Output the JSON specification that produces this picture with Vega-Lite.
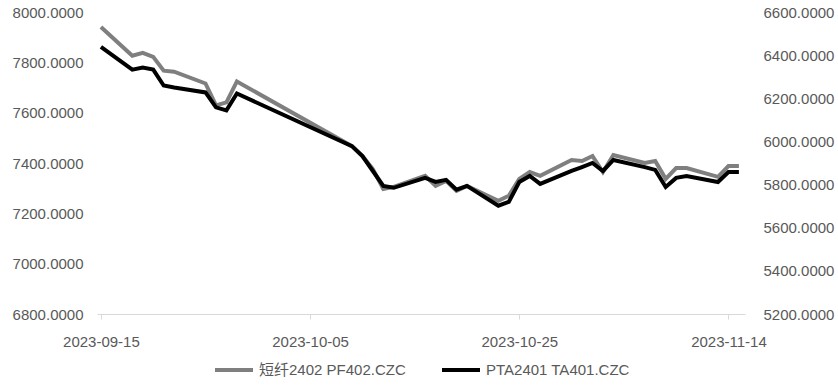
{
  "$schema": "https://vega.github.io/schema/vega-lite/v6.json",
  "width": 648,
  "height": 302,
  "padding": {"left": 12, "right": 2, "top": 5, "bottom": 0},
  "background": "white",
  "data": {
    "values": [
      {"date": "2023-09-15", "series": "短纤2402 PF402.CZC", "value": 7940},
      {"date": "2023-09-18", "series": "短纤2402 PF402.CZC", "value": 7826},
      {"date": "2023-09-19", "series": "短纤2402 PF402.CZC", "value": 7838},
      {"date": "2023-09-20", "series": "短纤2402 PF402.CZC", "value": 7822},
      {"date": "2023-09-21", "series": "短纤2402 PF402.CZC", "value": 7767},
      {"date": "2023-09-22", "series": "短纤2402 PF402.CZC", "value": 7763},
      {"date": "2023-09-25", "series": "短纤2402 PF402.CZC", "value": 7716},
      {"date": "2023-09-26", "series": "短纤2402 PF402.CZC", "value": 7629},
      {"date": "2023-09-27", "series": "短纤2402 PF402.CZC", "value": 7641},
      {"date": "2023-09-28", "series": "短纤2402 PF402.CZC", "value": 7724},
      {"date": "2023-10-09", "series": "短纤2402 PF402.CZC", "value": 7467},
      {"date": "2023-10-10", "series": "短纤2402 PF402.CZC", "value": 7428},
      {"date": "2023-10-11", "series": "短纤2402 PF402.CZC", "value": 7376},
      {"date": "2023-10-12", "series": "短纤2402 PF402.CZC", "value": 7297},
      {"date": "2023-10-13", "series": "短纤2402 PF402.CZC", "value": 7305},
      {"date": "2023-10-16", "series": "短纤2402 PF402.CZC", "value": 7349},
      {"date": "2023-10-17", "series": "短纤2402 PF402.CZC", "value": 7309},
      {"date": "2023-10-18", "series": "短纤2402 PF402.CZC", "value": 7329},
      {"date": "2023-10-19", "series": "短纤2402 PF402.CZC", "value": 7289},
      {"date": "2023-10-20", "series": "短纤2402 PF402.CZC", "value": 7309},
      {"date": "2023-10-23", "series": "短纤2402 PF402.CZC", "value": 7250},
      {"date": "2023-10-24", "series": "短纤2402 PF402.CZC", "value": 7270},
      {"date": "2023-10-25", "series": "短纤2402 PF402.CZC", "value": 7337},
      {"date": "2023-10-26", "series": "短纤2402 PF402.CZC", "value": 7364},
      {"date": "2023-10-27", "series": "短纤2402 PF402.CZC", "value": 7349},
      {"date": "2023-10-30", "series": "短纤2402 PF402.CZC", "value": 7412},
      {"date": "2023-10-31", "series": "短纤2402 PF402.CZC", "value": 7408},
      {"date": "2023-11-01", "series": "短纤2402 PF402.CZC", "value": 7428},
      {"date": "2023-11-02", "series": "短纤2402 PF402.CZC", "value": 7364},
      {"date": "2023-11-03", "series": "短纤2402 PF402.CZC", "value": 7432},
      {"date": "2023-11-06", "series": "短纤2402 PF402.CZC", "value": 7400},
      {"date": "2023-11-07", "series": "短纤2402 PF402.CZC", "value": 7408},
      {"date": "2023-11-08", "series": "短纤2402 PF402.CZC", "value": 7337},
      {"date": "2023-11-09", "series": "短纤2402 PF402.CZC", "value": 7380},
      {"date": "2023-11-10", "series": "短纤2402 PF402.CZC", "value": 7380},
      {"date": "2023-11-13", "series": "短纤2402 PF402.CZC", "value": 7345},
      {"date": "2023-11-14", "series": "短纤2402 PF402.CZC", "value": 7388},
      {"date": "2023-11-15", "series": "短纤2402 PF402.CZC", "value": 7388},
      {"date": "2023-09-15", "series": "PTA2401 TA401.CZC", "value": 6438},
      {"date": "2023-09-18", "series": "PTA2401 TA401.CZC", "value": 6333},
      {"date": "2023-09-19", "series": "PTA2401 TA401.CZC", "value": 6342},
      {"date": "2023-09-20", "series": "PTA2401 TA401.CZC", "value": 6333},
      {"date": "2023-09-21", "series": "PTA2401 TA401.CZC", "value": 6259},
      {"date": "2023-09-22", "series": "PTA2401 TA401.CZC", "value": 6250},
      {"date": "2023-09-25", "series": "PTA2401 TA401.CZC", "value": 6227},
      {"date": "2023-09-26", "series": "PTA2401 TA401.CZC", "value": 6158},
      {"date": "2023-09-27", "series": "PTA2401 TA401.CZC", "value": 6144},
      {"date": "2023-09-28", "series": "PTA2401 TA401.CZC", "value": 6222},
      {"date": "2023-10-09", "series": "PTA2401 TA401.CZC", "value": 5978},
      {"date": "2023-10-10", "series": "PTA2401 TA401.CZC", "value": 5932},
      {"date": "2023-10-11", "series": "PTA2401 TA401.CZC", "value": 5863},
      {"date": "2023-10-12", "series": "PTA2401 TA401.CZC", "value": 5794},
      {"date": "2023-10-13", "series": "PTA2401 TA401.CZC", "value": 5785},
      {"date": "2023-10-16", "series": "PTA2401 TA401.CZC", "value": 5831},
      {"date": "2023-10-17", "series": "PTA2401 TA401.CZC", "value": 5812},
      {"date": "2023-10-18", "series": "PTA2401 TA401.CZC", "value": 5822},
      {"date": "2023-10-19", "series": "PTA2401 TA401.CZC", "value": 5776},
      {"date": "2023-10-20", "series": "PTA2401 TA401.CZC", "value": 5794},
      {"date": "2023-10-23", "series": "PTA2401 TA401.CZC", "value": 5702},
      {"date": "2023-10-24", "series": "PTA2401 TA401.CZC", "value": 5720},
      {"date": "2023-10-25", "series": "PTA2401 TA401.CZC", "value": 5812},
      {"date": "2023-10-26", "series": "PTA2401 TA401.CZC", "value": 5840},
      {"date": "2023-10-27", "series": "PTA2401 TA401.CZC", "value": 5803},
      {"date": "2023-10-30", "series": "PTA2401 TA401.CZC", "value": 5863},
      {"date": "2023-10-31", "series": "PTA2401 TA401.CZC", "value": 5881},
      {"date": "2023-11-01", "series": "PTA2401 TA401.CZC", "value": 5900},
      {"date": "2023-11-02", "series": "PTA2401 TA401.CZC", "value": 5863},
      {"date": "2023-11-03", "series": "PTA2401 TA401.CZC", "value": 5914},
      {"date": "2023-11-06", "series": "PTA2401 TA401.CZC", "value": 5881},
      {"date": "2023-11-07", "series": "PTA2401 TA401.CZC", "value": 5868},
      {"date": "2023-11-08", "series": "PTA2401 TA401.CZC", "value": 5789},
      {"date": "2023-11-09", "series": "PTA2401 TA401.CZC", "value": 5831},
      {"date": "2023-11-10", "series": "PTA2401 TA401.CZC", "value": 5840},
      {"date": "2023-11-13", "series": "PTA2401 TA401.CZC", "value": 5812},
      {"date": "2023-11-14", "series": "PTA2401 TA401.CZC", "value": 5858},
      {"date": "2023-11-15", "series": "PTA2401 TA401.CZC", "value": 5858}
    ]
  },
  "encoding": {
    "x": {
      "field": "date",
      "type": "temporal",
      "scale": {
        "type": "utc",
        "domain": [
          {"year": 2023, "month": 9, "date": 14, "hours": 15, "utc": true},
          {"year": 2023, "month": 11, "date": 15, "hours": 14, "utc": true}
        ]
      },
      "axis": {
        "title": null,
        "format": "%Y-%m-%d",
        "values": [
          {"year": 2023, "month": 9, "date": 15, "utc": true},
          {"year": 2023, "month": 10, "date": 5, "utc": true},
          {"year": 2023, "month": 10, "date": 25, "utc": true},
          {"year": 2023, "month": 11, "date": 14, "utc": true}
        ],
        "grid": false,
        "domainColor": "#d9d9d9",
        "tickColor": "#d9d9d9",
        "tickSize": 5,
        "labelPadding": 15,
        "labelFontSize": 15,
        "labelColor": "#595959",
        "labelFont": "Liberation Sans"
      }
    },
    "color": {
      "field": "series",
      "type": "nominal",
      "scale": {
        "domain": ["短纤2402 PF402.CZC", "PTA2401 TA401.CZC"],
        "range": ["#7f7f7f", "#000000"]
      },
      "legend": {
        "title": null,
        "orient": "bottom",
        "direction": "horizontal",
        "symbolType": "stroke",
        "symbolStrokeWidth": 4,
        "symbolSize": 1444,
        "labelFontSize": 15,
        "labelColor": "#595959",
        "labelFont": "Liberation Sans, Noto Sans CJK SC",
        "labelOffset": 4,
        "columnPadding": 28,
        "offset": 0
      }
    }
  },
  "layer": [
    {
      "transform": [{"filter": "datum.series === '短纤2402 PF402.CZC'"}],
      "mark": {"type": "line", "strokeWidth": 4},
      "encoding": {
        "y": {
          "field": "value",
          "type": "quantitative",
          "scale": {"domain": [6800, 8000], "nice": false, "zero": false},
          "axis": {
            "title": null,
            "orient": "left",
            "values": [6800, 7000, 7200, 7400, 7600, 7800, 8000],
            "format": ".4f",
            "grid": false,
            "domain": false,
            "ticks": false,
            "labelPadding": 14,
            "labelFontSize": 15,
            "labelColor": "#595959",
            "labelFont": "Liberation Sans"
          }
        }
      }
    },
    {
      "transform": [{"filter": "datum.series === 'PTA2401 TA401.CZC'"}],
      "mark": {"type": "line", "strokeWidth": 4},
      "encoding": {
        "y": {
          "field": "value",
          "type": "quantitative",
          "scale": {"domain": [5200, 6600], "nice": false, "zero": false},
          "axis": {
            "title": null,
            "orient": "right",
            "values": [5200, 5400, 5600, 5800, 6000, 6200, 6400, 6600],
            "format": ".4f",
            "grid": false,
            "domain": false,
            "ticks": false,
            "labelPadding": 18,
            "labelFontSize": 15,
            "labelColor": "#595959",
            "labelFont": "Liberation Sans"
          }
        }
      }
    }
  ],
  "resolve": {"scale": {"y": "independent"}},
  "config": {
    "view": {"stroke": null},
    "legend": {"layout": {"bottom": {"anchor": "middle"}}}
  }
}
